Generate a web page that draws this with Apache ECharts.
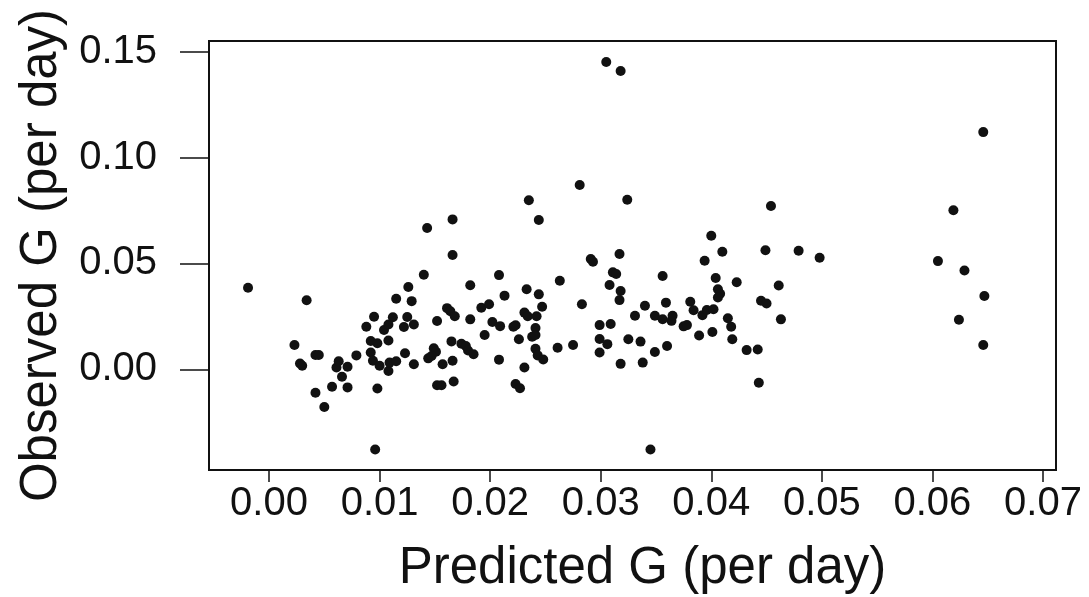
<!DOCTYPE html>
<html>
<head>
<meta charset="utf-8">
<title>Observed vs predicted G</title>
<script src="https://cdn.jsdelivr.net/npm/echarts@6/dist/echarts.min.js"></script>
<style>
  html, body { margin: 0; padding: 0; background: #ffffff; }
  #chart { width: 1089px; height: 597px; }
</style>
</head>
<body>
<div id="chart"></div>
<script>
// Predicted growth rate G (per day) for each sample
const predictedG = [
  -0.0019, 0.0034, 0.0023, 0.0028, 0.0030, 0.0042, 0.0045, 0.0042, 0.0050, 0.0057,
  0.0061, 0.0063, 0.0066, 0.0071, 0.0071, 0.0079, 0.0088, 0.0095, 0.0092, 0.0098,
  0.0092, 0.0094, 0.0100, 0.0098, 0.0096, 0.0104, 0.0108, 0.0112, 0.0108, 0.0108,
  0.0109, 0.0115, 0.0115, 0.0123, 0.0126, 0.0129, 0.0125, 0.0122, 0.0131, 0.0131,
  0.0140, 0.0143, 0.0166, 0.0166, 0.0182, 0.0161, 0.0164, 0.0168, 0.0182, 0.0152,
  0.0165, 0.0149, 0.0151, 0.0144, 0.0147, 0.0157, 0.0166, 0.0152, 0.0156, 0.0167,
  0.0174, 0.0178, 0.0180, 0.0185, 0.0192, 0.0199, 0.0202, 0.0209, 0.0195, 0.0208,
  0.0208, 0.0213, 0.0281, 0.0235, 0.0244, 0.0291, 0.0293, 0.0263, 0.0233, 0.0244,
  0.0247, 0.0283, 0.0231, 0.0234, 0.0242, 0.0221, 0.0223, 0.0241, 0.0238, 0.0241,
  0.0226, 0.0241, 0.0243, 0.0248, 0.0261, 0.0275, 0.0299, 0.0309, 0.0299, 0.0306,
  0.0299, 0.0231, 0.0223, 0.0227, 0.0311, 0.0314, 0.0308, 0.0317, 0.0318, 0.0317,
  0.0318, 0.0324, 0.0356, 0.0359, 0.0331, 0.0340, 0.0349, 0.0356, 0.0364, 0.0365,
  0.0381, 0.0384, 0.0392, 0.0396, 0.0402, 0.0375, 0.0378, 0.0389, 0.0401, 0.0325,
  0.0336, 0.0360, 0.0349, 0.0338, 0.0345, 0.0400, 0.0410, 0.0394, 0.0404, 0.0406,
  0.0408, 0.0406, 0.0415, 0.0418, 0.0419, 0.0423, 0.0432, 0.0442, 0.0443, 0.0445,
  0.0450, 0.0449, 0.0454, 0.0461, 0.0463, 0.0479, 0.0498, 0.0605, 0.0619, 0.0629,
  0.0624, 0.0646, 0.0647, 0.0646, 0.0305, 0.0318
];

// Observed growth rate G (per day), same order as predictedG
const observedG = [
  0.0385, 0.0326, 0.0115, 0.0028, 0.0017, 0.0068, 0.0068, -0.0110, -0.0178, -0.0082,
  0.0009, 0.0038, -0.0035, 0.0012, -0.0085, 0.0066, 0.0201, 0.0248, 0.0134, 0.0123,
  0.0080, 0.0041, 0.0017, -0.0090, -0.0378, 0.0186, 0.0212, 0.0246, 0.0136, -0.0008,
  0.0032, 0.0038, 0.0333, 0.0076, 0.0389, 0.0322, 0.0247, 0.0200, 0.0212, 0.0024,
  0.0447, 0.0667, 0.0708, 0.0540, 0.0397, 0.0289, 0.0274, 0.0251, 0.0236, 0.0228,
  0.0132, 0.0100, 0.0083, 0.0052, 0.0063, 0.0024, 0.0041, -0.0075, -0.0075, -0.0057,
  0.0121, 0.0110, 0.0089, 0.0071, 0.0291, 0.0307, 0.0224, 0.0204, 0.0162, 0.0046,
  0.0445, 0.0348, 0.0870, 0.0798, 0.0705, 0.0521, 0.0508, 0.0418, 0.0378, 0.0354,
  0.0296, 0.0307, 0.0268, 0.0251, 0.0251, 0.0201, 0.0208, 0.0195, 0.0154, 0.0162,
  0.0142, 0.0097, 0.0066, 0.0047, 0.0102, 0.0115, 0.0209, 0.0214, 0.0143, 0.0119,
  0.0080, 0.0009, -0.0069, -0.0089, 0.0458, 0.0450, 0.0398, 0.0545, 0.0370, 0.0327,
  0.0026, 0.0801, 0.0441, 0.0315, 0.0253, 0.0300, 0.0253, 0.0237, 0.0229, 0.0253,
  0.0319, 0.0279, 0.0256, 0.0280, 0.0284, 0.0203, 0.0209, 0.0160, 0.0176, 0.0142,
  0.0131, 0.0110, 0.0082, 0.0032, -0.0378, 0.0631, 0.0555, 0.0513, 0.0431, 0.0378,
  0.0357, 0.0339, 0.0241, 0.0201, 0.0142, 0.0411, 0.0091, 0.0094, -0.0063, 0.0324,
  0.0311, 0.0562, 0.0771, 0.0396, 0.0236, 0.0560, 0.0527, 0.0511, 0.0751, 0.0467,
  0.0234, 0.1120, 0.0346, 0.0115, 0.1451, 0.1408
];

// Tick positions on each axis
const xTicks = [0, 0.01, 0.02, 0.03, 0.04, 0.05, 0.06, 0.07];
const yTicks = [0, 0.05, 0.10, 0.15];

const points = predictedG.map((x, i) => [x, observedG[i]]);

const FONT = '"Liberation Sans", Arial, Helvetica, sans-serif';
const INK = '#111111';

const chart = echarts.init(document.getElementById('chart'), null, { renderer: 'canvas' });

chart.setOption({
  backgroundColor: '#ffffff',
  animation: false,
  grid: {
    left: 209, right: 33, top: 41, bottom: 127,
    outerBoundsMode: 'none',
    containLabel: false,
    show: true, borderColor: INK, borderWidth: 2, backgroundColor: 'transparent'
  },
  xAxis: {
    type: 'value',
    min: -0.00543,
    max: 0.07118,
    name: 'Predicted G (per day)',
    nameLocation: 'middle',
    nameGap: 73,
    nameTextStyle: { fontFamily: FONT, fontSize: 51, color: INK, padding: [0, 0, 0, 20] },
    axisLine: { show: true, onZero: false, lineStyle: { color: INK, width: 2 } },
    axisTick: { show: true, inside: false, length: 12, customValues: xTicks, lineStyle: { color: INK, width: 1.5 } },
    axisLabel: {
      show: true, margin: 14, customValues: xTicks,
      fontFamily: FONT, fontSize: 40, color: INK,
      formatter: v => v.toFixed(2)
    },
    splitLine: { show: false }
  },
  yAxis: {
    type: 'value',
    min: -0.0475,
    max: 0.155,
    name: 'Observed G (per day)',
    nameLocation: 'middle',
    nameRotate: 90,
    nameGap: 142,
    nameTextStyle: { fontFamily: FONT, fontSize: 51, color: INK },
    axisLine: { show: true, onZero: false, lineStyle: { color: INK, width: 2 } },
    axisTick: { show: true, inside: false, length: 29, customValues: yTicks, lineStyle: { color: INK, width: 1.5 } },
    axisLabel: {
      show: true, margin: 52, customValues: yTicks,
      fontFamily: FONT, fontSize: 40, color: INK,
      formatter: v => v.toFixed(2)
    },
    splitLine: { show: false }
  },
  series: [{
    type: 'scatter',
    data: points,
    symbol: 'circle',
    symbolSize: 10,
    itemStyle: { color: INK, opacity: 1 },
    emphasis: { disabled: true }
  }]
});
</script>
</body>
</html>
